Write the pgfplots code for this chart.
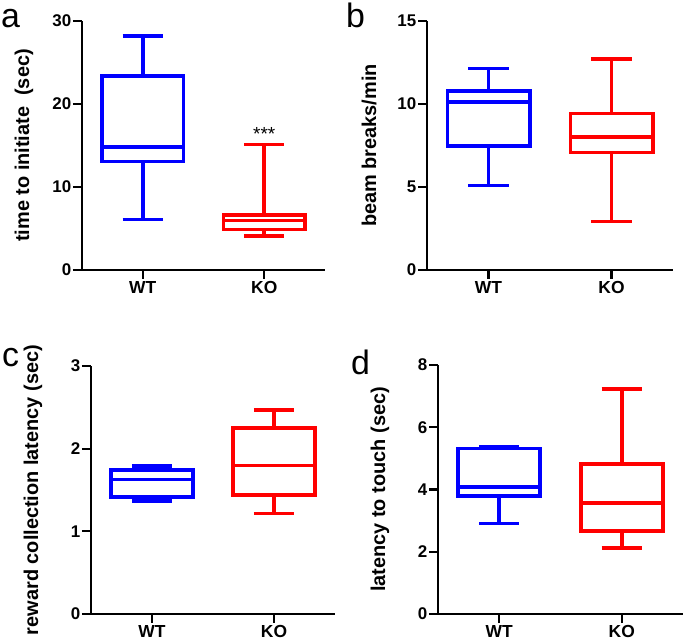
\documentclass[border=0pt]{standalone}
\usepackage{fontspec}
\setmainfont{Liberation Sans}
\usepackage{pgfplots}
\pgfplotsset{compat=1.18}
\usepgfplotslibrary{statistics}
\pgfplotsset{
  base/.style={
    scale only axis,
    anchor=south west,
    axis lines=left,
    axis line style={-, line width=2bp, black},
    tick align=outside,
    xmin=-0.5, xmax=1.5, ymin=0,
    xtick={0,1}, xticklabels={WT,KO},
    /pgf/number format/assume math mode=true,
    tick style={draw=black, color=black, line width=2.2bp},
    major tick length=9bp,
    yticklabel style={font=\bfseries\fontsize{17}{17}\selectfont, inner sep=1.5bp},
    xticklabel style={font=\bfseries\fontsize{17.5}{17.5}\selectfont, inner sep=2bp},
    ylabel style={font=\bfseries\fontsize{20}{20}\selectfont, at={(axis description cs:0,0.5)}, anchor=center, yshift=58bp},
  },
  bx/.style={boxplot/draw direction=y, boxplot/box extend=0.67, boxplot/whisker extend=0.33},
  wt/.style={blue, line width=3.6bp, line join=miter, bx},
  ko/.style={red, line width=3.6bp, line join=miter, bx},
}
\begin{document}
\begin{tikzpicture}
\useasboundingbox (0,0) rectangle (685bp,643bp);
\node[anchor=base west, inner sep=0, font=\fontsize{34}{34}\selectfont] at (1bp,615bp) {a};
\node[anchor=base west, inner sep=0, font=\fontsize{34}{34}\selectfont] at (346bp,615bp) {b};
\node[anchor=base west, inner sep=0, font=\fontsize{34}{34}\selectfont] at (2bp,276bp) {c};
\node[anchor=base west, inner sep=0, font=\fontsize{34}{34}\selectfont] at (351bp,268bp) {d};
% panel a
\begin{axis}[base, at={(82bp,373bp)}, width=243bp, height=249bp,
  ymax=30, ytick={0,10,20,30}, ylabel={time to initiate\ \ (sec)}]
\addplot[wt, boxplot prepared={draw position=0, lower whisker=6.1, lower quartile=13.08, median=14.84, upper quartile=23.35, upper whisker=28.16}] coordinates {};
\addplot[ko, boxplot prepared={draw position=1, lower whisker=4.09, lower quartile=4.89, median=5.94, upper quartile=6.66, upper whisker=15.12}] coordinates {};
\node[anchor=south, inner sep=0, font=\fontsize{19}{19}\selectfont] at (axis cs:1,15.6) {***};
\end{axis}
% panel b
\begin{axis}[base, at={(427bp,373bp)}, width=246bp, height=249bp,
  ymax=15, ytick={0,5,10,15}, ylabel={beam breaks/min}]
\addplot[wt, boxplot prepared={draw position=0, lower whisker=5.09, lower quartile=7.48, median=10.13, upper quartile=10.79, upper whisker=12.13}] coordinates {};
\addplot[ko, boxplot prepared={draw position=1, lower whisker=2.93, lower quartile=7.08, median=8.0, upper quartile=9.42, upper whisker=12.71}] coordinates {};
\end{axis}
% panel c
\begin{axis}[base, at={(91bp,29bp)}, width=244bp, height=248bp,
  ymax=3, ytick={0,1,2,3}, ylabel={reward collection latency (sec)}]
\addplot[wt, boxplot prepared={draw position=0, lower whisker=1.365, lower quartile=1.418, median=1.627, upper quartile=1.744, upper whisker=1.79}] coordinates {};
\addplot[ko, boxplot prepared={draw position=1, lower whisker=1.216, lower quartile=1.438, median=1.796, upper quartile=2.251, upper whisker=2.469}] coordinates {};
\end{axis}
% panel d
\begin{axis}[base, at={(438bp,29bp)}, width=245bp, height=249bp,
  ymax=8, ytick={0,2,4,6,8}, ylabel={latency to touch (sec)}]
\addplot[wt, boxplot prepared={draw position=0, lower whisker=2.91, lower quartile=3.79, median=4.09, upper quartile=5.32, upper whisker=5.375}] coordinates {};
\addplot[ko, boxplot prepared={draw position=1, lower whisker=2.13, lower quartile=2.66, median=3.57, upper quartile=4.81, upper whisker=7.22}] coordinates {};
\end{axis}
\end{tikzpicture}
\end{document}
